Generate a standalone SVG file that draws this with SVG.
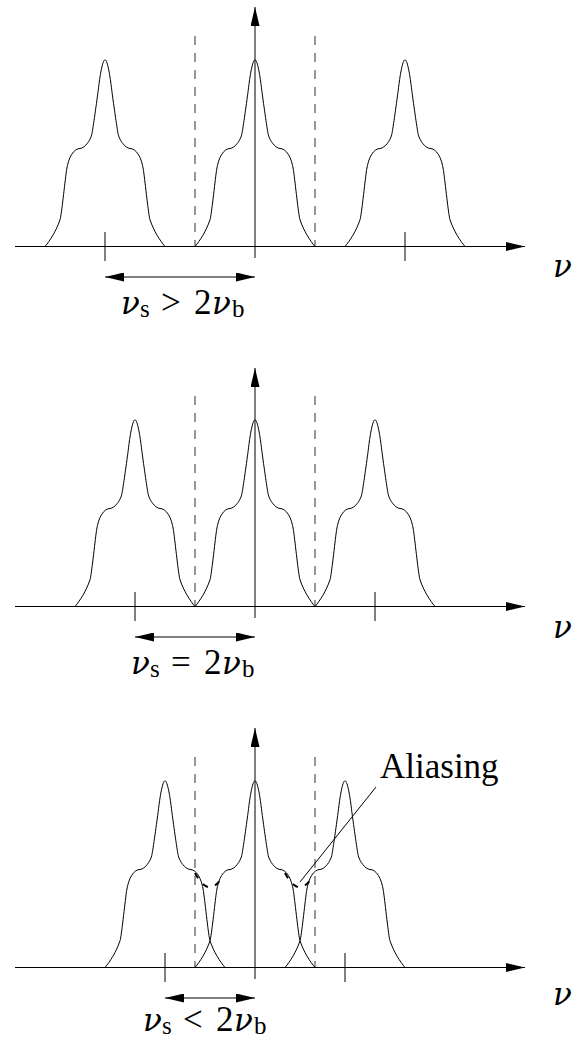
<svg xmlns="http://www.w3.org/2000/svg" xmlns:xlink="http://www.w3.org/1999/xlink" width="588" height="1041" viewBox="0 0 588 1041">
<style>
.ax{stroke:#000;stroke-width:1;fill:none}
.pk{stroke:#000;stroke-width:1;fill:none}
.dl{stroke:#333;stroke-width:1;stroke-dasharray:9 8;fill:none}
.tk{stroke:#000;stroke-width:1}
.al{stroke:#000;stroke-width:2;stroke-dasharray:6 7.5;fill:none}
text{font-family:"Liberation Serif","DejaVu Serif",serif;font-size:35px;fill:#000}
.it{font-style:italic;font-family:"DejaVu Serif","Liberation Serif",serif;font-size:31px}
.sub{font-size:25px}
</style>
<defs>
<marker id="arr" viewBox="0 0 19 9" refX="19" refY="4.5" markerWidth="19" markerHeight="9" markerUnits="userSpaceOnUse" orient="auto-start-reverse">
<path d="M0,0 L19,4.5 L0,9 z" fill="#000"/>
</marker>
<path id="peak" class="pk" d="M-60,0 C-55,-6 -49,-15 -45,-26.7 C-43.5,-31.5 -40.3,-63 -38.5,-76 C-36.5,-90 -31,-98 -25,-98 C-20,-98.5 -14.8,-106 -13.3,-111.7 C-12,-117.5 -8,-147 -6.7,-156.7 C-5.2,-170 -2.5,-186.7 0,-186.7 C2.5,-186.7 5.2,-170 6.7,-156.7 C8,-147 12,-117.5 13.3,-111.7 C14.8,-106 20,-98.5 25,-98 C31,-98 36.5,-90 38.5,-76 C40.3,-63 43.5,-31.5 45,-26.7 C49,-15 55,-6 60,0"/>
</defs>

<g id="panel1">
<line class="dl" x1="195" y1="36" x2="195" y2="246.5"/>
<line class="dl" x1="315" y1="36" x2="315" y2="246.5"/>
<use xlink:href="#peak" href="#peak" x="105" y="246.5"/>
<use xlink:href="#peak" href="#peak" x="255" y="246.5"/>
<use xlink:href="#peak" href="#peak" x="405" y="246.5"/>
<line class="tk" x1="105" y1="232" x2="105" y2="261"/>
<line class="tk" x1="405" y1="232" x2="405" y2="261"/>
<text x="121" y="314"><tspan class="it">ν</tspan><tspan class="sub" x="140" dy="3">s</tspan><tspan x="161" dy="-3">&gt;</tspan><tspan x="194">2</tspan><tspan class="it" x="212">ν</tspan><tspan class="sub" x="232" dy="3">b</tspan></text>
<text class="it" x="553" y="277">ν</text>
</g>

<g id="panel2">
<line class="dl" x1="195" y1="396" x2="195" y2="606.5"/>
<line class="dl" x1="315" y1="396" x2="315" y2="606.5"/>
<use xlink:href="#peak" href="#peak" x="135" y="606.5"/>
<use xlink:href="#peak" href="#peak" x="255" y="606.5"/>
<use xlink:href="#peak" href="#peak" x="375" y="606.5"/>
<line class="tk" x1="135" y1="592" x2="135" y2="621"/>
<line class="tk" x1="375" y1="592" x2="375" y2="621"/>
<text x="131" y="674"><tspan class="it">ν</tspan><tspan class="sub" x="150" dy="3">s</tspan><tspan x="171" dy="-3">=</tspan><tspan x="204">2</tspan><tspan class="it" x="222">ν</tspan><tspan class="sub" x="242" dy="3">b</tspan></text>
<text class="it" x="553" y="638">ν</text>
</g>

<g id="panel3">
<line class="dl" x1="195" y1="757" x2="195" y2="967.5"/>
<line class="dl" x1="315" y1="757" x2="315" y2="967.5"/>
<use xlink:href="#peak" href="#peak" x="165" y="967.5"/>
<use xlink:href="#peak" href="#peak" x="255" y="967.5"/>
<use xlink:href="#peak" href="#peak" x="345" y="967.5"/>
<line class="tk" x1="165" y1="953" x2="165" y2="982"/>
<line class="tk" x1="345" y1="953" x2="345" y2="982"/>
<path class="al" d="M195,873 Q208,898 221,879"/>
<path class="al" d="M285,873 Q298,898 311,879"/>
<text x="143" y="1031"><tspan class="it">ν</tspan><tspan class="sub" x="162" dy="3">s</tspan><tspan x="183" dy="-3">&lt;</tspan><tspan x="216">2</tspan><tspan class="it" x="234">ν</tspan><tspan class="sub" x="254" dy="3">b</tspan></text>
<text class="it" x="553" y="1005">ν</text>
<text x="380" y="778">Aliasing</text>
</g>

<g id="connectors">
<line class="ax" x1="15" y1="246.5" x2="525" y2="246.5" marker-end="url(#arr)"/>
<line class="ax" x1="255" y1="258" x2="255" y2="7" marker-end="url(#arr)"/>
<line class="ax" x1="105" y1="277" x2="255" y2="277" marker-start="url(#arr)" marker-end="url(#arr)"/>
<line class="ax" x1="15" y1="606.5" x2="525" y2="606.5" marker-end="url(#arr)"/>
<line class="ax" x1="255" y1="618" x2="255" y2="368" marker-end="url(#arr)"/>
<line class="ax" x1="135" y1="637" x2="255" y2="637" marker-start="url(#arr)" marker-end="url(#arr)"/>
<line class="ax" x1="15" y1="967.5" x2="525" y2="967.5" marker-end="url(#arr)"/>
<line class="ax" x1="255" y1="979" x2="255" y2="728" marker-end="url(#arr)"/>
<line class="ax" x1="165" y1="998" x2="255" y2="998" marker-start="url(#arr)" marker-end="url(#arr)"/>
<line class="ax" x1="300" y1="882" x2="376" y2="787"/>
</g>
</svg>
